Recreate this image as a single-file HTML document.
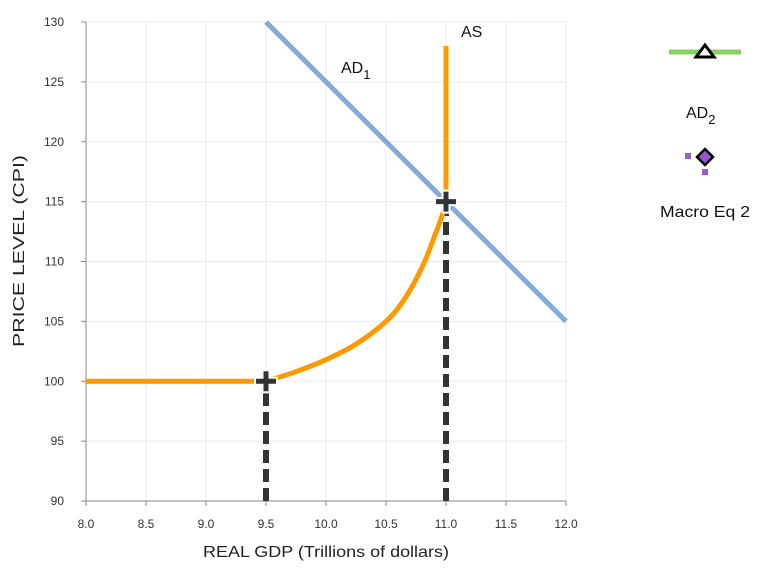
<!DOCTYPE html>
<html><head><meta charset="utf-8"><style>
body{margin:0;background:#fff;font-family:"Liberation Sans",Arial,sans-serif}
svg text{font-family:"Liberation Sans",Arial,sans-serif}
</style></head><body>
<svg id="c" width="763" height="564"></svg>
<script>
const xTicks=[8.0,8.5,9.0,9.5,10.0,10.5,11.0,11.5,12.0];
const yTicks=[90,95,100,105,110,115,120,125,130];
const adX=[9.5,12.0];
const adY=[130,105];
const flatX=[8.0,9.45];
const flatY=[100,100];
const asCurveX=[9.5,9.75,10.0,10.25,10.5,10.65,10.8,10.9,10.96,11.0];
const asCurveY=[100,100.8,101.8,103.1,105,106.8,109.5,112,113.6,115];
const asVertX=[11.0,11.0];
const asVertY=[115,128];
const eqX=[9.5,11.0];
const eqY=[100,115];
const NS="http://www.w3.org/2000/svg";
const svg=document.getElementById('c');
const X=v=>86+(v-8)*120, Y=v=>501-(v-90)*11.975;
function el(t,a,p){const e=document.createElementNS(NS,t);for(const k in a)e.setAttribute(k,a[k]);(p||svg).appendChild(e);return e;}
xTicks.forEach(t=>{const l=el('line',{x1:X(t),x2:X(t),y1:Y(130),y2:Y(90),stroke:'#ebebeb','stroke-width':1});


const tx=el('text',{x:X(t),y:528,'font-size':12,'text-anchor':'middle',fill:'#333'});tx.textContent=t.toFixed(1);


el('line',{x1:X(t),x2:X(t),y1:501,y2:506,stroke:'#888'});});
yTicks.forEach(t=>{const l=el('line',{x1:86,x2:566,y1:Y(t),y2:Y(t),stroke:'#ebebeb','stroke-width':1});


const tx=el('text',{x:64,y:Y(t)+4,'font-size':12,'text-anchor':'end',fill:'#333'});tx.textContent=t;


el('line',{x1:81,x2:86,y1:Y(t),y2:Y(t),stroke:'#888'});});
el('line',{x1:86,x2:86,y1:Y(130),y2:501,stroke:'#888'});
el('line',{x1:86,x2:566,y1:501,y2:501,stroke:'#888'});
let t=el('text',{x:203,y:557,'font-size':16,textLength:246,lengthAdjust:'spacingAndGlyphs',fill:'#222'});t.textContent='REAL GDP (Trillions of dollars)';


t=el('text',{x:24,y:347,'font-size':16,textLength:192,lengthAdjust:'spacingAndGlyphs',fill:'#222',transform:'rotate(-90 24 347)'});t.textContent='PRICE LEVEL (CPI)';


const pts=(xs,ys)=>xs.map((v,i)=>X(v)+','+Y(ys[i])).join(' ');
function smooth(xs,ys){const P=xs.map((v,i)=>[X(v),Y(ys[i])]);let d='M'+P[0].join(',');
for(let i=0;i<P.length-1;i++){const p0=P[i-1]||P[i],p1=P[i],p2=P[i+1],p3=P[i+2]||p2;
const c1=[p1[0]+(p2[0]-p0[0])/6,p1[1]+(p2[1]-p0[1])/6],c2=[p2[0]-(p3[0]-p1[0])/6,p2[1]-(p3[1]-p1[1])/6];
d+=`C${c1.join(',')} ${c2.join(',')} ${p2.join(',')}`;}return d;}
eqX.forEach((v,i)=>{const d=el('line',{x1:X(v),x2:X(v),y1:501,y2:Y(eqY[i])+12,stroke:'#333','stroke-width':6,'stroke-dasharray':'13,6'});

});
let p=el('polyline',{points:pts(adX,adY),fill:'none',stroke:'#82acd6','stroke-width':5});


p=el('polyline',{points:pts(flatX,flatY),fill:'none',stroke:'#ff9900','stroke-width':5});


p=el('path',{d:smooth(asCurveX,asCurveY),fill:'none',stroke:'#ff9900','stroke-width':5});


p=el('polyline',{points:pts(asVertX,asVertY),fill:'none',stroke:'#ff9900','stroke-width':5});


eqX.forEach((v,i)=>{const g=el('g',{});


const cx=X(v),cy=Y(eqY[i]);
el('rect',{x:cx-12,y:cy-4.5,width:24,height:9,fill:'#fff'},g);
el('rect',{x:cx-4.5,y:cy-12,width:9,height:24,fill:'#fff'},g);
el('rect',{x:cx-10,y:cy-2.5,width:20,height:5,fill:'#333'},g);
el('rect',{x:cx-2.5,y:cy-10,width:5,height:20,fill:'#333'},g);});
t=el('text',{x:341,y:73,'font-size':16,fill:'#111'});t.innerHTML='AD<tspan font-size="13" dy="6">1</tspan>';


t=el('text',{x:461,y:37,'font-size':16,fill:'#111'});t.textContent='AS';


const lg=el('g',{});


el('line',{x1:669,x2:741,y1:52,y2:52,stroke:'#88d35f','stroke-width':5},lg);
el('path',{d:'M705,45 L714,57 L696,57 Z',fill:'#fff',stroke:'#000','stroke-width':3},lg);
t=el('text',{x:686,y:118,'font-size':16,fill:'#111'},lg);t.innerHTML='AD<tspan font-size="13" dy="6">2</tspan>';


el('rect',{x:685,y:153,width:6,height:6,fill:'#a05ad2'},lg);
el('rect',{x:702,y:169,width:6,height:6,fill:'#a05ad2'},lg);
el('path',{d:'M705,149 L713,157 L705,165 L697,157 Z',fill:'#9a55cc',stroke:'#000','stroke-width':2.5},lg);
t=el('text',{x:660,y:217,'font-size':16,textLength:90,lengthAdjust:'spacingAndGlyphs',fill:'#111'},lg);t.textContent='Macro Eq 2';


</script>
</body></html>
